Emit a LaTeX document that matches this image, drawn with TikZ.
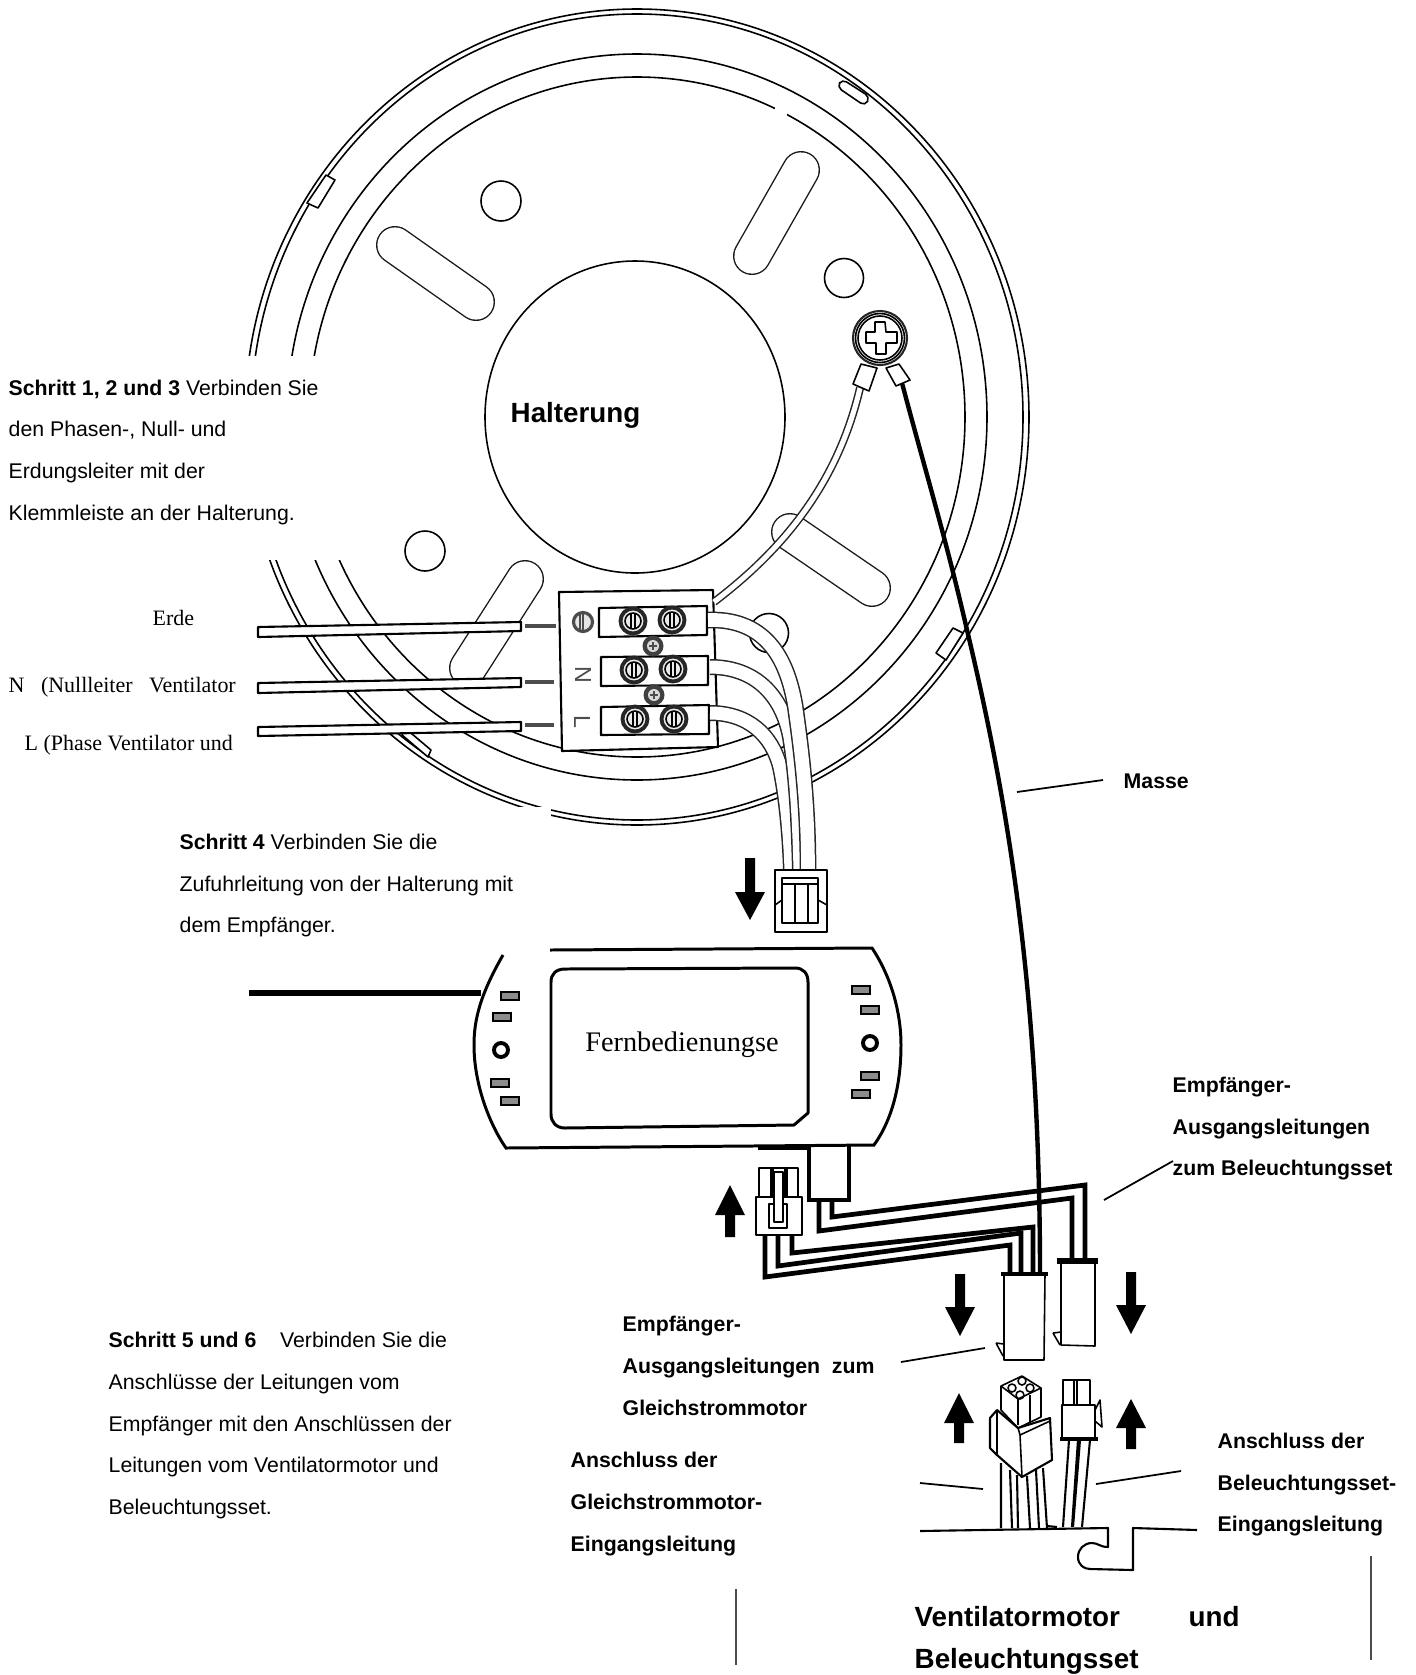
\documentclass[tikz,border=0pt]{standalone}
\usepackage{fontspec}
\setmainfont{Liberation Sans}
\newfontfamily\serifface{Liberation Serif}
\usetikzlibrary{calc}
\tikzset{
  x=0.01cm,y=-0.01cm,
  thinline/.style={line width=0.45pt,draw=black,line join=round},
  medline/.style={line width=0.6pt,draw=black,line join=round},
  wireline/.style={line width=1.35pt,draw=black,line join=miter},
  leader/.style={line width=0.5pt,draw=black},
  body/.style={anchor=mid west,inner sep=0pt,font=\fontsize{6.05pt}{7pt}\selectfont},
  boldlabel/.style={anchor=mid west,inner sep=0pt,font=\fontsize{6.05pt}{7pt}\selectfont\bfseries},
  biglabel/.style={anchor=mid west,inner sep=0pt,font=\fontsize{7.9pt}{9pt}\selectfont\bfseries},
  seriflabel/.style={anchor=mid west,inner sep=0pt,font=\fontsize{6.25pt}{7pt}\serifface},
  led/.style={draw=black,line width=0.7pt,fill=black!45},
  screwhead/.style={draw=black!85,line width=1.1pt,fill=black!8}
}
\newcommand{\capsule}[2]{%
  \draw[line width=10.8pt,line cap=round,black!90] #1 -- #2;
  \draw[line width=10.0pt,line cap=round,white] #1 -- #2;}
\newcommand{\fatarrow}[4]{%
  \fill[black] ({#1-5},#2)--({#1+5},#2)--({#1+5},#3)--({#1+15},#3)--(#1,#4)--({#1-15},#3)--({#1-5},#3)--cycle;}
\newcommand{\termscrew}[2]{%
  \draw[screwhead] (#1,#2) circle (12.5);
  \draw[thinline] (#1,#2) circle (8);
  \draw[thinline,line width=0.4pt] ({#1-2},{#2-7}) -- ({#1-2},{#2+7});
  \draw[thinline,line width=0.4pt] ({#1+2},{#2-7}) -- ({#1+2},{#2+7});}
\newcommand{\smallscrew}[2]{%
  \fill[black!75] (#1,#2) circle (10.5);
  \fill[black!15] (#1,#2) circle (6);
  \draw[black!70,line width=0.5pt] ({#1-4},#2) -- ({#1+4},#2) ({#1},{#2-4}) -- ({#1},{#2+4});}
% a flexible lead: two thin outlines with white between
\newcommand{\lead}[2]{%
  \draw[black!85,line width=#1+0.85pt] #2;
  \draw[white,line width=#1] #2;}
\begin{document}
\begin{tikzpicture}
\useasboundingbox (0,0) rectangle (1416,1675);
\fill[white] (0,0) rectangle (1416,1675);
% ---------- mounting plate
\draw[thinline] (637,417) ellipse [x radius=392,y radius=408];
\draw[thinline] (637,417) ellipse [x radius=386,y radius=403];
\draw[thinline] (637,417) ellipse [x radius=350,y radius=363];
\draw[thinline] (637,417) ellipse [x radius=328,y radius=340];
\fill[white] (775,106) rectangle (787,118);
\draw[thinline] (635,417) ellipse [x radius=150,y radius=156];
\capsule{(801,170)}{(752,256)}
\capsule{(395,245)}{(476,302)}
\capsule{(525,579)}{(468,668)}
\capsule{(790,532)}{(872,588)}
\draw[thinline] (501,201) circle (20);
\draw[thinline] (844,278) circle (19.5);
\draw[thinline] (425,551) circle (20);
\draw[thinline] (769,633) circle (19.5);
% tabs on the rim
\filldraw[thinline,fill=white,rounded corners=1.5] (842,79)--(870,97)--(865,106)--(837,87)--cycle;
\filldraw[thinline,fill=white] (326,175)--(335,180)--(318,208)--(307,203)--cycle;
\filldraw[thinline,fill=white] (405,728)--(431,750)--(428,757)--(402,735)--cycle;
\filldraw[thinline,fill=white] (953,628)--(963,633)--(946,660)--(936,653)--cycle;
% white panels behind the texts
\fill[white] (0,356) rectangle (345,560);
\fill[white] (0,807) rectangle (551,955);
% ---------- terminal block
\filldraw[medline,fill=white] (559,592)--(713,590)--(718,747)--(562,751)--cycle;
\filldraw[medline,fill=white] (599,608)--(707,606)--(707,635)--(599,637)--cycle;
\filldraw[medline,fill=white] (601,657)--(708,656)--(708,685)--(601,686)--cycle;
\filldraw[medline,fill=white] (601,707)--(709,705)--(709,734)--(601,735)--cycle;
\termscrew{633}{621}\termscrew{672}{620}
\termscrew{634}{670}\termscrew{673}{669}
\termscrew{635}{719}\termscrew{674}{719}
\smallscrew{653}{646}\smallscrew{654}{695}
\draw[draw=black!70,line width=0.9pt,fill=black!10] (583,622) circle (9.5);
\draw[black!70,line width=0.6pt] (583,613)--(583,631);
\draw[black!70,line width=0.6pt] (580,613)--(580,631);
\node[font=\fontsize{6.6pt}{7pt}\selectfont,text=black!70,rotate=-90,inner sep=0pt] (termN) at (583,675) {N};
\node[font=\fontsize{6.6pt}{7pt}\selectfont,text=black!70,rotate=-90,inner sep=0pt] (termL) at (582,722) {L};
% incoming mains wires
\filldraw[medline,fill=white] (258,627)--(521,622)--(521,631)--(258,637)--cycle;
\filldraw[medline,fill=white] (258,683)--(521,678)--(521,687)--(258,693)--cycle;
\filldraw[medline,fill=white] (258,727)--(521,722)--(521,731)--(258,736)--cycle;
\draw[black!70,line width=1.1pt] (525,626)--(556,626);
\draw[black!70,line width=1.1pt] (525,682)--(554,682);
\draw[black!70,line width=1.1pt] (525,725)--(554,725);
% feed wires to plug
\lead{3.7pt}{(710,713) .. controls (748,713) and (772,735) .. (780,767) .. controls (787,800) and (790,840) .. (791,870)}
\lead{3.7pt}{(710,667) .. controls (755,667) and (782,695) .. (790,737) .. controls (797,780) and (799,830) .. (800,870)}
\lead{3.9pt}{(708,620) .. controls (770,618) and (788,665) .. (795,705) .. controls (803,760) and (808,810) .. (808,870)}
% feed plug
\filldraw[medline,fill=white] (775,870) rectangle (827,932);
\draw[thinline] (782,878) rectangle (818,923);
\draw[medline] (782,884)--(818,884);
\draw[thinline] (795,884)--(795,923) (808,884)--(808,923);
\draw[thinline] (775,905)--(782,900) (827,905)--(818,900);
\fatarrow{750}{858}{892}{920}
% ---------- earth screw and wires
\lead{1.45pt}{(714,602) .. controls (785,548) and (838,482) .. (860,388)}
\filldraw[thinline,fill=white] (861,364)--(877,368)--(869,391)--(853,384)--cycle;
\filldraw[thinline,fill=white] (886,368)--(899,364)--(910,380)--(896,386)--cycle;
\draw[draw=black!85,line width=0.6pt,fill=white] (880,338) circle (27);
\draw[thinline] (880,338) circle (24.5);
\draw[thinline] (880,338) circle (22);
\draw[thinline] (875,322)--(885,322)--(886,332)--(897,332)--(897,343)--(886,343)--(886,354)--(876,354)--(876,343)--(866,343)--(866,332)--(875,332)--cycle;
\draw[line width=1.25pt,black] (902,383) .. controls (925,470) and (945,535) .. (967,630) .. controls (1010,810) and (1040,1000) .. (1040,1275);
% ---------- receiver
\draw[line width=0.85pt,black] (503,955) .. controls (480,995) and (474,1020) .. (474,1045) .. controls (474,1085) and (490,1125) .. (506,1148) -- (874,1145) .. controls (892,1120) and (901,1085) .. (901,1045) .. controls (901,1010) and (890,975) .. (872,948) -- (550,950);
\draw[medline,line width=0.85pt] (565,969) -- (795,968) .. controls (803,968) and (808,973) .. (808,982) -- (808,1113) -- (794,1125) -- (565,1128) .. controls (556,1128) and (551,1122) .. (551,1114) -- (551,982) .. controls (551,974) and (556,969) .. (565,969) -- cycle;
\draw[line width=1.5pt,black] (249,993)--(481,993);
\draw[led] (501,992) rectangle (519,1000);
\draw[led] (493,1013) rectangle (511,1021);
\draw[led] (491,1079) rectangle (509,1087);
\draw[led] (501,1097) rectangle (519,1105);
\draw[led] (852,986) rectangle (870,994);
\draw[led] (861,1006) rectangle (879,1014);
\draw[led] (861,1072) rectangle (879,1080);
\draw[led] (852,1090) rectangle (870,1098);
\draw[line width=1.1pt,black] (501,1050) circle (7);
\draw[line width=1.1pt,black] (870,1043) circle (7);
% ---------- sockets under the receiver
\draw[line width=1.3pt,black] (758,1148)--(809,1148);
\draw[line width=0.9pt,black] (809,1146)--(809,1200)--(849,1200)--(849,1146);
\draw[wireline] (819,1200)--(819,1231)--(1072,1198)--(1072,1260);
\draw[wireline] (832,1200)--(832,1217)--(1085,1185)--(1085,1260);
\draw[wireline] (765,1235)--(765,1277)--(1010,1245)--(1010,1275);
\draw[wireline] (778,1235)--(778,1266)--(1021,1233)--(1021,1275);
\draw[wireline] (792,1235)--(792,1253)--(1033,1227)--(1033,1275);
\filldraw[medline,fill=white] (759,1197)--(759,1168)--(798,1168)--(798,1197);
\draw[medline,line width=1pt] (772,1168)--(772,1197) (786,1168)--(786,1197);
\filldraw[medline,fill=white] (756,1197) rectangle (802,1235);
\draw[medline] (769,1204) rectangle (787,1228);
\filldraw[thinline,fill=white] (774,1172) rectangle (783,1222);
\fatarrow{730}{1237}{1215}{1185}
% ---------- upper plugs
\filldraw[thinline,fill=white] (1004,1274)--(1045,1274)--(1044,1360)--(1004,1360)--cycle;
\draw[line width=0.9pt,black] (1001,1274)--(1048,1274);
\draw[thinline] (996,1343)--(1004,1344) (996,1343)--(1003,1356);
\filldraw[thinline,fill=white] (1061,1261)--(1095,1261)--(1095,1346)--(1061,1345)--cycle;
\draw[line width=1.6pt,black] (1057,1261)--(1098,1261);
\draw[thinline] (1053,1333)--(1061,1332) (1053,1333)--(1060,1345);
\fatarrow{960}{1274}{1307}{1336}
\fatarrow{1131}{1272}{1305}{1334}
% ---------- motor side
\draw[medline] (920,1531)--(1108,1528)--(1108,1547) .. controls (1100,1547) and (1098,1543) .. (1092,1543) .. controls (1084,1543) and (1078,1549) .. (1078,1557) .. controls (1078,1565) and (1084,1569) .. (1090,1569) -- (1133,1570) -- (1133,1528) -- (1197,1530);
\draw[medline] (1001,1463)--(1001,1528) (1010,1470)--(1012,1528) (1017,1475)--(1018,1528) (1027,1476)--(1030,1528) (1036,1470)--(1039,1528) (1043,1468)--(1047,1528) (1047,1526)--(1057,1527);
\draw[medline] (1069,1440)--(1063,1527) (1078,1440)--(1072,1527) (1080,1440)--(1073,1527) (1090,1440)--(1082,1527);
% 4 pin
\filldraw[thinline,fill=white] (1001,1386)--(1022,1376)--(1041,1388)--(1041,1417)--(1018,1428)--(1001,1410)--cycle;
\draw[thinline] (1001,1386)--(1018,1399)--(1041,1388);
\draw[thinline] (1018,1399)--(1018,1425) (1030,1395)--(1030,1422);
\draw[thinline] (1022,1381) circle (4) (1012,1388) circle (4) (1030,1388) circle (4) (1020,1395) circle (4);
\filldraw[medline,fill=white] (990,1418)--(997,1410)--(1018,1428)--(1050,1418)--(1052,1460)--(1022,1477)--(997,1455)--(990,1448)--cycle;
\draw[thinline] (997,1410)--(997,1455) (1018,1428)--(1020,1435)--(1022,1477) (1020,1435)--(1050,1421);
% 2 pin
\filldraw[medline,fill=white] (1063,1405)--(1063,1380)--(1090,1380)--(1090,1405)--cycle;
\draw[thinline] (1074,1380)--(1074,1405) (1077,1380)--(1077,1405);
\draw[thinline] (1095,1410)--(1100,1400)--(1102,1427)--(1095,1421);
\filldraw[medline,fill=white] (1062,1405) rectangle (1095,1439);
\draw[line width=0.9pt,black] (1060,1439)--(1098,1439);
\fatarrow{959}{1443}{1423}{1393}
\fatarrow{1131}{1449}{1428}{1399}
% ---------- leader lines
\coordinate (mA) at (1017,792); \coordinate (mB) at (1103,780);
\coordinate (lA) at (1104,1200); \coordinate (lB) at (1173,1161);
\coordinate (eA) at (901,1362); \coordinate (eB) at (985,1348);
\coordinate (gA) at (920,1483); \coordinate (gB) at (983,1489);
\coordinate (bA) at (1096,1484); \coordinate (bB) at (1181,1471);
\coordinate (sA) at (736,1589); \coordinate (sB) at (736,1665);
\coordinate (tA) at (1371,1556); \coordinate (tB) at (1371,1660);
\draw[leader] (mA)--(mB);
\draw[leader] (lA)--(lB);
\draw[leader] (eA)--(eB);
\draw[leader] (gA)--(gB);
\draw[leader] (bA)--(bB);
\draw[leader,draw=black!70] (sA)--(sB);
\draw[leader,draw=black!70] (tA)--(tB);
% ---------- texts
\node[biglabel] (halt) at (510,413) {Halterung};
\node[body] (s1a) at (8,386) {\textbf{Schritt 1, 2 und 3} Verbinden Sie};
\node[body] (s1b) at (8,427) {den Phasen-, Null- und};
\node[body] (s1c) at (8,469) {Erdungsleiter mit der};
\node[body] (s1d) at (8,511) {Klemmleiste an der Halterung.};
\node[seriflabel] (erde) at (152,616) {Erde};
\node[seriflabel] (nlab) at (8,683) {N\ \ \ (Nullleiter\ \ \ Ventilator};
\node[seriflabel] (llab) at (24,741) {L (Phase Ventilator und};
\node[body] (s4a) at (179,840) {\textbf{Schritt 4} Verbinden Sie die};
\node[body] (s4b) at (179,882) {Zufuhrleitung von der Halterung mit};
\node[body] (s4c) at (179,923) {dem Empfänger.};
\node[anchor=center,inner sep=0pt,font=\fontsize{8.05pt}{9pt}\serifface] (fern) at (682,1045) {Fernbedienungse};
\node[boldlabel] (masse) at (1123,779) {Masse};
\node[boldlabel] (r1) at (1172,1083) {Empfänger-};
\node[boldlabel] (r2) at (1172,1125) {Ausgangsleitungen};
\node[boldlabel] (r3) at (1172,1166) {zum Beleuchtungsset};
\node[body] (s5a) at (108,1338) {\textbf{Schritt 5 und 6}\ \ \ \ Verbinden Sie die};
\node[body] (s5b) at (108,1380) {Anschlüsse der Leitungen vom};
\node[body] (s5c) at (108,1422) {Empfänger mit den Anschlüssen der};
\node[body] (s5d) at (108,1463) {Leitungen vom Ventilatormotor und};
\node[body] (s5e) at (108,1505) {Beleuchtungsset.};
\node[boldlabel] (e1) at (622,1322) {Empfänger-};
\node[boldlabel] (e2) at (622,1364) {Ausgangsleitungen\ \ zum};
\node[boldlabel] (e3) at (622,1406) {Gleichstrommotor};
\node[boldlabel] (a1) at (570,1458) {Anschluss der};
\node[boldlabel] (a2) at (570,1500) {Gleichstrommotor-};
\node[boldlabel] (a3) at (570,1542) {Eingangsleitung};
\node[boldlabel] (b1) at (1217,1439) {Anschluss der};
\node[boldlabel] (b2) at (1217,1481) {Beleuchtungsset-};
\node[boldlabel] (b3) at (1217,1522) {Eingangsleitung};
\node[biglabel] (v1) at (914,1617) {Ventilatormotor};
\node[biglabel] (v2) at (1188,1617) {und};
\node[biglabel] (v3) at (914,1659) {Beleuchtungsset};
\end{tikzpicture}
\end{document}
